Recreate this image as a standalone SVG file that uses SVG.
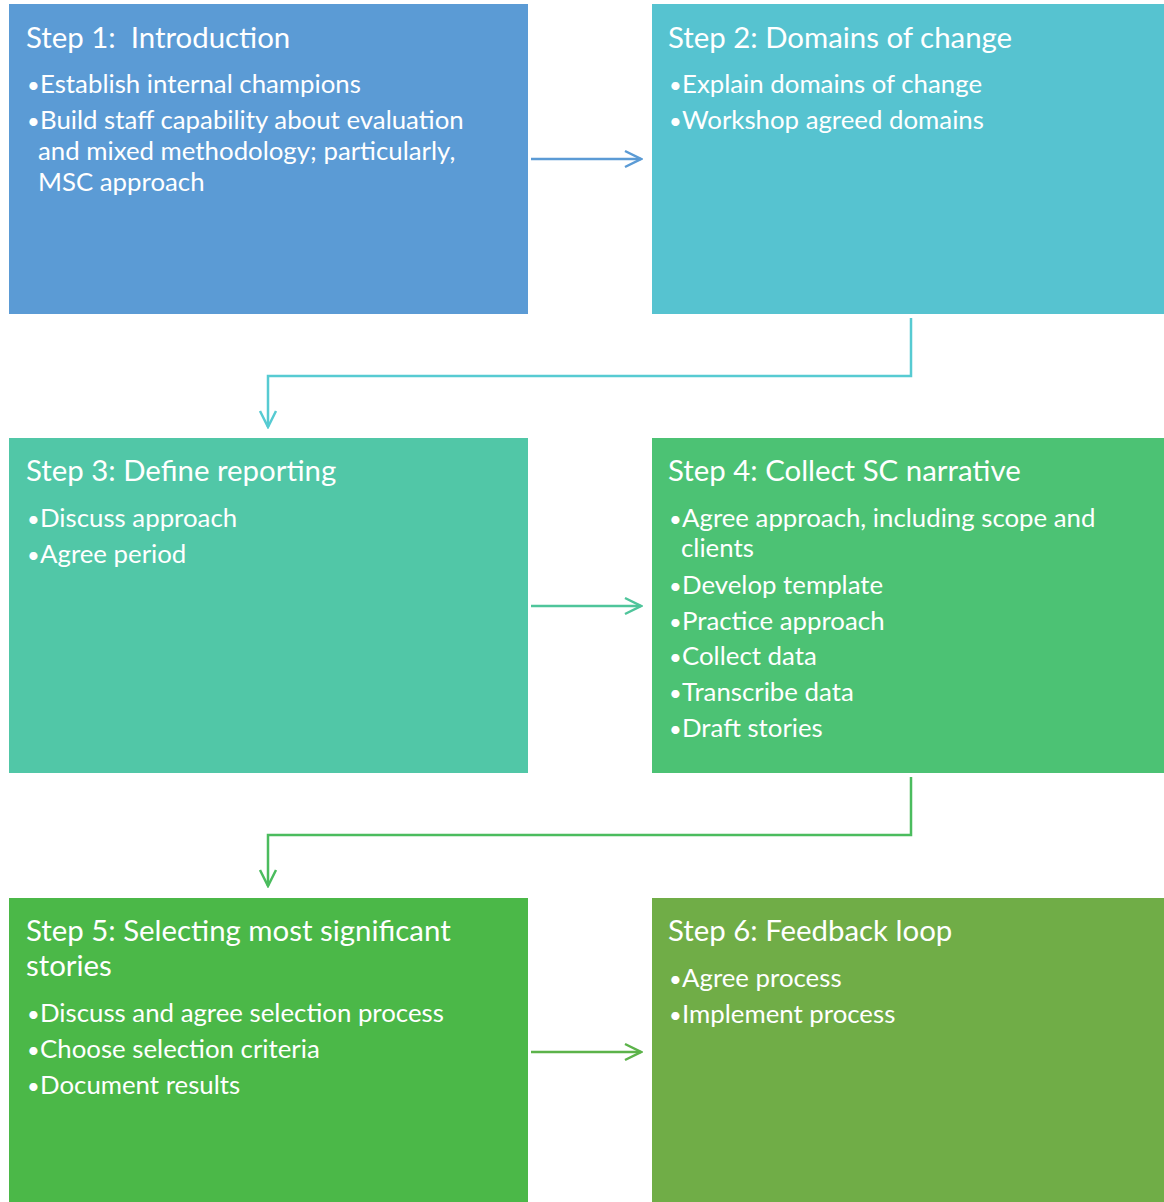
<svg xmlns="http://www.w3.org/2000/svg" width="1164" height="1202" viewBox="0 0 1164 1202">
  <style>
    text { font-family: Lato, "Open Sans", sans-serif; fill: #ffffff; }
    .title { font-size: 29.4px; }
    .item { font-size: 25.8px; }
    .dot { font-size: 22px; }
    .conn { fill: none; stroke-width: 2.5; }
  </style>
  <defs>
    <marker id="chev-blue" viewBox="0 0 20 20" refX="18" refY="10" markerWidth="20" markerHeight="20" markerUnits="userSpaceOnUse" orient="auto">
      <path d="M2,2 L18,10 L2,18" fill="none" stroke="#5B9BD5" stroke-width="2.5"/>
    </marker>
    <marker id="chev-cyan" viewBox="0 0 20 20" refX="18" refY="10" markerWidth="20" markerHeight="20" markerUnits="userSpaceOnUse" orient="auto">
      <path d="M2,2 L18,10 L2,18" fill="none" stroke="#57CBD2" stroke-width="2.5"/>
    </marker>
    <marker id="chev-teal" viewBox="0 0 20 20" refX="18" refY="10" markerWidth="20" markerHeight="20" markerUnits="userSpaceOnUse" orient="auto">
      <path d="M2,2 L18,10 L2,18" fill="none" stroke="#4FC59B" stroke-width="2.5"/>
    </marker>
    <marker id="chev-green" viewBox="0 0 20 20" refX="18" refY="10" markerWidth="20" markerHeight="20" markerUnits="userSpaceOnUse" orient="auto">
      <path d="M2,2 L18,10 L2,18" fill="none" stroke="#4BBC5E" stroke-width="2.5"/>
    </marker>
    <marker id="chev-lime" viewBox="0 0 20 20" refX="18" refY="10" markerWidth="20" markerHeight="20" markerUnits="userSpaceOnUse" orient="auto">
      <path d="M2,2 L18,10 L2,18" fill="none" stroke="#5CB34A" stroke-width="2.5"/>
    </marker>
  </defs>

  <g id="step1">
    <rect x="9" y="4" width="519" height="310" fill="#5B9BD5"/>
    <text class="title" x="26" y="48" xml:space="preserve">Step 1:  Introduction</text>
    <text class="item" y="93"><tspan class="dot" x="27">•</tspan><tspan x="40">Establish internal champions</tspan></text>
    <text class="item" y="129"><tspan class="dot" x="27">•</tspan><tspan x="40">Build staff capability about evaluation</tspan></text>
    <text class="item" x="38" y="160">and mixed methodology; particularly,</text>
    <text class="item" x="38" y="191">MSC approach</text>
  </g>

  <g id="step2">
    <rect x="652" y="4" width="512" height="310" fill="#56C3D0"/>
    <text class="title" x="668" y="48">Step 2: Domains of change</text>
    <text class="item" y="93"><tspan class="dot" x="669">•</tspan><tspan x="682">Explain domains of change</tspan></text>
    <text class="item" y="129"><tspan class="dot" x="669">•</tspan><tspan x="682">Workshop agreed domains</tspan></text>
  </g>

  <g id="step3">
    <rect x="9" y="438" width="519" height="335" fill="#51C7A7"/>
    <text class="title" x="26" y="481">Step 3: Define reporting</text>
    <text class="item" y="527"><tspan class="dot" x="27">•</tspan><tspan x="40">Discuss approach</tspan></text>
    <text class="item" y="563"><tspan class="dot" x="27">•</tspan><tspan x="40">Agree period</tspan></text>
  </g>

  <g id="step4">
    <rect x="652" y="438" width="512" height="335" fill="#4CC274"/>
    <text class="title" x="668" y="481">Step 4: Collect SC narrative</text>
    <text class="item" y="527"><tspan class="dot" x="669">•</tspan><tspan x="682">Agree approach, including scope and</tspan></text>
    <text class="item" x="681" y="557">clients</text>
    <text class="item" y="594"><tspan class="dot" x="669">•</tspan><tspan x="682">Develop template</tspan></text>
    <text class="item" y="630"><tspan class="dot" x="669">•</tspan><tspan x="682">Practice approach</tspan></text>
    <text class="item" y="665"><tspan class="dot" x="669">•</tspan><tspan x="682">Collect data</tspan></text>
    <text class="item" y="701"><tspan class="dot" x="669">•</tspan><tspan x="682">Transcribe data</tspan></text>
    <text class="item" y="737"><tspan class="dot" x="669">•</tspan><tspan x="682">Draft stories</tspan></text>
  </g>

  <g id="step5">
    <rect x="9" y="898" width="519" height="304" fill="#4BB848"/>
    <text class="title" x="26" y="941">Step 5: Selecting most significant</text>
    <text class="title" x="26" y="976">stories</text>
    <text class="item" y="1022"><tspan class="dot" x="27">•</tspan><tspan x="40">Discuss and agree selection process</tspan></text>
    <text class="item" y="1058"><tspan class="dot" x="27">•</tspan><tspan x="40">Choose selection criteria</tspan></text>
    <text class="item" y="1094"><tspan class="dot" x="27">•</tspan><tspan x="40">Document results</tspan></text>
  </g>

  <g id="step6">
    <rect x="652" y="898" width="512" height="304" fill="#70AD47"/>
    <text class="title" x="668" y="941">Step 6: Feedback loop</text>
    <text class="item" y="987"><tspan class="dot" x="669">•</tspan><tspan x="682">Agree process</tspan></text>
    <text class="item" y="1023"><tspan class="dot" x="669">•</tspan><tspan x="682">Implement process</tspan></text>
  </g>

  <g id="connectors">
    <path class="conn" stroke="#5B9BD5" d="M531,159 H641" marker-end="url(#chev-blue)"/>
    <path class="conn" stroke="#57CBD2" d="M911,318 V376 H268 V427" marker-end="url(#chev-cyan)"/>
    <path class="conn" stroke="#4FC59B" d="M531,606 H641" marker-end="url(#chev-teal)"/>
    <path class="conn" stroke="#4BBC5E" d="M911,777 V835 H268 V886" marker-end="url(#chev-green)"/>
    <path class="conn" stroke="#5CB34A" d="M531,1052 H641" marker-end="url(#chev-lime)"/>
  </g>
</svg>
